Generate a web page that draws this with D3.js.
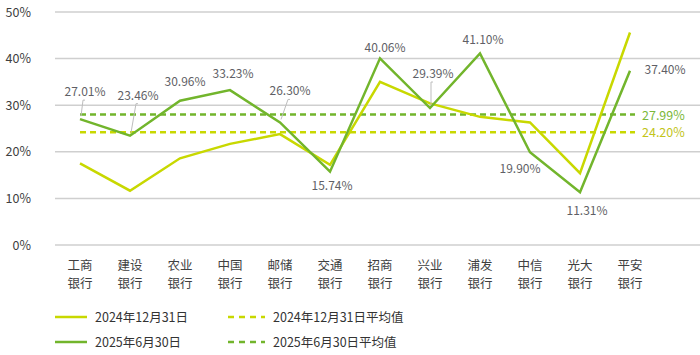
<!DOCTYPE html>
<html><head><meta charset="utf-8">
<script src="https://cdn.jsdelivr.net/npm/d3@7"></script>
<style>body{margin:0;background:#fff}svg{display:block;font-family:"Noto Sans CJK SC","Noto Sans",sans-serif}</style>
</head><body><svg id="c" width="700" height="355"></svg>
<script>
const categories = ["工商银行","建设银行","农业银行","中国银行","邮储银行","交通银行","招商银行","兴业银行","浦发银行","中信银行","光大银行","平安银行"];
const values2024 = [17.5, 11.65, 18.6, 21.7, 23.8, 17.2, 35.0, 30.4, 27.5, 26.3, 15.4, 45.6];
const values2025 = [27.01, 23.46, 30.96, 33.23, 26.30, 15.74, 40.06, 29.39, 41.10, 19.90, 11.31, 37.40];
const avg2024 = 24.20;
const avg2025 = 27.99;
const yTicks = [0, 10, 20, 30, 40, 50];
const seriesNames = ["2024年12月31日", "2025年6月30日"];
const avgNames = ["2024年12月31日平均值", "2025年6月30日平均值"];

// label layout (offset of label from point, and whether a leader line is drawn)
const labelLayout = [
  {dx:5, dy:-23, leader:true}, {dx:8, dy:-36, leader:true}, {dx:5, dy:-15}, {dx:3, dy:-12},
  {dx:10, dy:-27, leader:true}, {dx:2, dy:18}, {dx:5, dy:-6}, {dx:3, dy:-30, leader:true},
  {dx:3, dy:-9}, {dx:-10, dy:21}, {dx:7, dy:23}, {dx:35, dy:3}
];

const C24 = "#c8d800", C25 = "#72b52c";
const svg = d3.select("#c");
const x = d3.scaleBand().domain(categories).range([55, 655]);
const cx = d => x(d) + x.bandwidth()/2;
const y = d3.scaleLinear().domain([0, 50]).range([245, 12]);

// gridlines
svg.append("g").selectAll("line").data(yTicks).join("line")
  .attr("x1", 55).attr("x2", 700).attr("y1", d=>y(d)).attr("y2", d=>y(d))
  .attr("stroke", "#cfcfcf").attr("stroke-width", 1.5);

// y axis labels
const yAxis = d3.axisLeft(y).tickValues(yTicks).tickFormat(d=>d+"%").tickSize(0).tickPadding(0);
const ya = svg.append("g").attr("transform","translate(31,0)").call(yAxis);
ya.select(".domain").remove();
ya.selectAll("text").attr("font-size", 12.5).attr("fill", "#404040").attr("font-family","Noto Sans CJK SC");

// x axis labels
const xa = svg.append("g").attr("transform","translate(0,245)").call(d3.axisBottom(x).tickSize(0).tickFormat(""));
xa.select(".domain").remove();
const xl = svg.append("g").selectAll("text").data(categories).join("text")
  .attr("x", d=>cx(d)).attr("text-anchor","middle").attr("font-size",12.5).attr("fill","#404040");
xl.append("tspan").attr("x", d=>cx(d)).attr("y", 270).text(d=>d.slice(0,2));
xl.append("tspan").attr("x", d=>cx(d)).attr("y", 288).text(d=>d.slice(2));

// average dashed lines
[[avg2025, C25], [avg2024, C24]].forEach(([a, c]) => {
  svg.append("line").attr("x1", cx(categories[0])).attr("x2", 635)
    .attr("y1", y(a)).attr("y2", y(a)).attr("stroke", c).attr("stroke-width", 2.5)
    .attr("stroke-dasharray", "6,4");
});
svg.append("text").attr("x", 642).attr("y", y(avg2025)+5).attr("font-size",12.5).attr("fill","#7cb83a").text(avg2025.toFixed(2)+"%");
svg.append("text").attr("x", 642).attr("y", y(avg2024)+5).attr("font-size",12.5).attr("fill","#c2c41a").text(avg2024.toFixed(2)+"%");

// lines
const line = d3.line().x((d,i)=>cx(categories[i])).y(d=>y(d));
svg.append("path").datum(values2024).attr("d", line).attr("fill","none").attr("stroke", C24).attr("stroke-width", 2.5);
svg.append("path").datum(values2025).attr("d", line).attr("fill","none").attr("stroke", C25).attr("stroke-width", 2.5);

// leader lines + labels
values2025.forEach((v, i) => {
  const px = cx(categories[i]), py = y(v), L = labelLayout[i];
  if (L.leader) {
    const tx = px + L.dx - 2, ty = py + L.dy + 4;
    svg.append("path").attr("d", `M${tx+2},${ty} L${tx},${ty} L${px+1},${py-3}`)
      .attr("fill","none").attr("stroke","#bdbdbd").attr("stroke-width",1);
  }
  svg.append("text").attr("x", px + L.dx).attr("y", py + L.dy).attr("text-anchor","middle")
    .attr("font-size", 12).attr("fill", "#5f5f66").text(v.toFixed(2)+"%");
});

// legend
const leg = [
  {x:55, y:317, w:32, g:40, c:C24, dash:null, t:seriesNames[0]},
  {x:228, y:317, w:37, g:45, c:C24, dash:"6,5", t:avgNames[0]},
  {x:55, y:342, w:32, g:40, c:C25, dash:null, t:seriesNames[1]},
  {x:228, y:342, w:37, g:45, c:C25, dash:"6,5", t:avgNames[1]}
];
leg.forEach(l => {
  svg.append("line").attr("x1", l.x).attr("x2", l.x+l.w).attr("y1", l.y).attr("y2", l.y)
    .attr("stroke", l.c).attr("stroke-width", 2.5).attr("stroke-dasharray", l.dash);
  svg.append("text").attr("x", l.x+l.g).attr("y", l.y+4.5).attr("font-size", 12.5).attr("fill", "#333").text(l.t);
});
</script></body></html>
